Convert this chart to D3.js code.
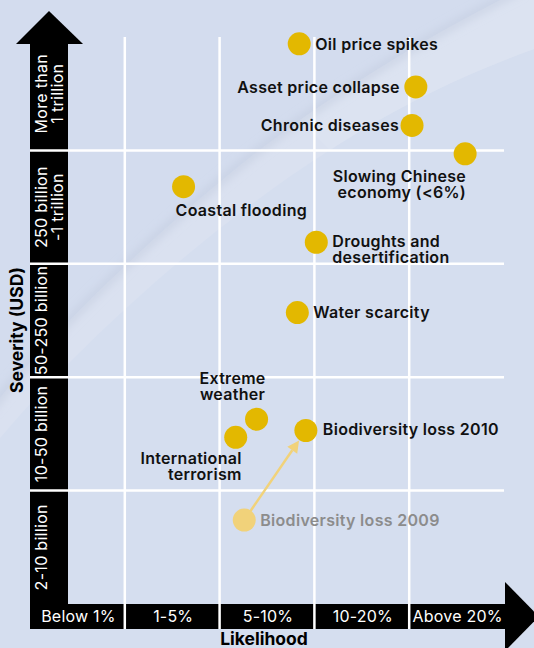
<!DOCTYPE html>
<html>
<head>
<meta charset="utf-8">
<script src="https://cdn.jsdelivr.net/npm/d3@7"></script>
<style>
  body { margin: 0; background: #d5deef; }
  svg { display: block; }
</style>
</head>
<body>
<div id="risk-chart"></div>
<script>
// risks, likelihood band position (0-5), severity band position (0-5)
const risks = [
    "Oil price spikes", "Asset price collapse", "Chronic diseases",
    "Slowing Chinese economy (<6%)", "Coastal flooding", "Droughts and desertification",
    "Water scarcity", "Extreme weather", "International terrorism",
    "Biodiversity loss 2010", "Biodiversity loss 2009"
];
const likelihood = [2.84, 4.07, 4.03, 4.59, 1.62, 3.02, 2.82, 2.39, 2.17, 2.91, 2.26];
const severity   = [4.94, 4.56, 4.22, 3.97, 3.68, 3.19, 2.57, 1.63, 1.47, 1.53, 0.74];

const likelihoodBands = ["Below 1%", "1-5%", "5-10%", "10-20%", "Above 20%"];
const severityBands = [
    ["2-10 billion"], ["10-50 billion"], ["50-250 billion"],
    ["250 billion", "-1 trillion"], ["More than", "1 trillion"]
];

// where each label sits relative to its dot
const labelLayout = {
    "Oil price spikes":              { lines: ["Oil price spikes"], dx: 16, dy: 6, anchor: "start" },
    "Asset price collapse":          { lines: ["Asset price collapse"], dx: -16, dy: 6, anchor: "end" },
    "Chronic diseases":              { lines: ["Chronic diseases"], dx: -13, dy: 6, anchor: "end" },
    "Slowing Chinese economy (<6%)": { lines: ["Slowing Chinese", "economy (<6%)"], dx: 1, dy: 28, anchor: "end" },
    "Coastal flooding":              { lines: ["Coastal flooding"], dx: -8, dy: 29, anchor: "start" },
    "Droughts and desertification":  { lines: ["Droughts and", "desertification"], dx: 16, dy: 5, anchor: "start" },
    "Water scarcity":                { lines: ["Water scarcity"], dx: 16, dy: 5, anchor: "start" },
    "Extreme weather":               { lines: ["Extreme", "weather"], dx: -24, dy: -35, anchor: "middle" },
    "International terrorism":       { lines: ["International", "terrorism"], dx: 6, dy: 27, anchor: "end" },
    "Biodiversity loss 2010":        { lines: ["Biodiversity loss 2010"], dx: 17, dy: 5, anchor: "start" },
    "Biodiversity loss 2009":        { lines: ["Biodiversity loss 2009"], dx: 16, dy: 6, anchor: "start" }
};

const data = risks.map((name, i) => ({ name, x: likelihood[i], y: severity[i] }));

const width = 534;
const height = 648;
const font = "Inter, 'Liberation Sans', Arial, sans-serif";
const gold = "#e3b800";
const paleGold = "#f1d27a";

const svg = d3.select("#risk-chart")
    .append("svg")
    .attr("width", width)
    .attr("height", height);

// background with the soft curved sheet
const defs = svg.append("defs");
defs.append("filter").attr("id", "soft")
    .attr("x", "-20%").attr("y", "-20%").attr("width", "140%").attr("height", "140%")
    .append("feGaussianBlur").attr("stdDeviation", 5);

svg.append("rect")
    .attr("width", width).attr("height", height)
    .attr("fill", "#d5deef");

const curve = "M-10,410 C60,320 200,190 300,120 C380,65 450,25 520,-10";
svg.append("path")
    .attr("d", "M-10,410 C60,320 200,190 300,120 C380,65 450,25 520,-10 L560,-10 L560,40 C470,70 400,105 330,150 C220,220 90,330 -10,450 Z")
    .attr("fill", "#dae1f0");
svg.append("path")
    .attr("d", curve + " L560,-10 L560,-40 L-10,-40 Z")
    .attr("fill", "#d3dcee");
svg.append("path")
    .attr("d", "M300,120 C380,65 450,25 520,-10 L560,-10 L560,40 C470,70 400,105 330,150 Z")
    .attr("fill", "#dce3f1");
svg.append("path")
    .attr("d", curve)
    .attr("fill", "none")
    .attr("stroke", "#c3ccdf")
    .attr("stroke-width", 5)
    .attr("filter", "url(#soft)");

const xScale = d3.scaleLinear().domain([0, 5]).range([30, 504]);
const yScale = d3.scaleLinear().domain([0, 5]).range([604, 37]);

const barW = 38;   // vertical bar
const barH = 25;   // horizontal bar
const x0 = xScale(0);
const y0 = yScale(0);

// axis bars with arrows
svg.append("rect")
    .attr("x", x0).attr("y", 44)
    .attr("width", barW).attr("height", y0 + barH - 44)
    .attr("fill", "#000");
svg.append("path")
    .attr("d", `M${x0 - 14},44 L${x0 + barW / 2},11 L${x0 + barW + 15},44 Z`)
    .attr("fill", "#000");
svg.append("rect")
    .attr("x", x0).attr("y", y0)
    .attr("width", xScale(5) + 1 - x0).attr("height", barH)
    .attr("fill", "#000");
svg.append("path")
    .attr("d", `M${xScale(5) + 1},${y0 - 22} L${xScale(5) + 35},${y0 + barH / 2} L${xScale(5) + 1},${y0 + barH + 22} Z`)
    .attr("fill", "#000");

// grid
const grid = svg.append("g").attr("stroke", "#fff").attr("stroke-width", 2.5);
grid.selectAll(".v")
    .data(d3.range(1, 5))
    .join("line")
        .attr("x1", d => xScale(d)).attr("x2", d => xScale(d))
        .attr("y1", yScale(5)).attr("y2", y0 + barH);
grid.selectAll(".h")
    .data(d3.range(1, 5))
    .join("line")
        .attr("x1", x0).attr("x2", xScale(5))
        .attr("y1", d => yScale(d)).attr("y2", d => yScale(d));

// likelihood band labels
svg.append("g")
    .selectAll("text")
    .data(likelihoodBands)
    .join("text")
        .attr("x", (d, i) => xScale(i + 0.5) + 1)
        .attr("y", y0 + 18)
        .attr("text-anchor", "middle")
        .attr("fill", "#fff")
        .style("font-family", font)
        .style("font-size", "16px")
        .style("letter-spacing", "0.2px")
        .text(d => d);

// severity band labels
svg.append("g")
    .selectAll("text")
    .data(severityBands)
    .join("text")
        .attr("transform", (d, i) => `translate(${x0 + 17},${yScale(i + 0.5)}) rotate(-90)`)
        .attr("text-anchor", "middle")
        .attr("fill", "#fff")
        .style("font-family", font)
        .style("font-size", "16px")
        .style("letter-spacing", "0.3px")
        .selectAll("tspan")
        .data(d => d)
        .join("tspan")
            .attr("x", 0)
            .attr("y", (d, i) => i * 16)
            .text(d => d);

// axis titles
svg.append("text")
    .attr("transform", `translate(23,330) rotate(-90)`)
    .attr("text-anchor", "middle")
    .style("font-family", font)
    .style("font-size", "17.5px")
    .style("font-weight", 700)
    .text("Severity (USD)");

svg.append("text")
    .attr("x", 264)
    .attr("y", 645)
    .attr("text-anchor", "middle")
    .style("font-family", font)
    .style("font-size", "17.5px")
    .style("font-weight", 700)
    .text("Likelihood");

// change in biodiversity loss
const from = data.find(d => d.name === "Biodiversity loss 2009");
const to = data.find(d => d.name === "Biodiversity loss 2010");
const fx = xScale(from.x), fy = yScale(from.y);
const tx = xScale(to.x), ty = yScale(to.y);
const len = Math.hypot(tx - fx, ty - fy);
const ux = (tx - fx) / len, uy = (ty - fy) / len;
const tipX = tx - ux * 12, tipY = ty - uy * 12;
const baseX = tipX - ux * 12, baseY = tipY - uy * 12;
svg.append("line")
    .attr("x1", fx + ux * 10).attr("y1", fy + uy * 10)
    .attr("x2", baseX).attr("y2", baseY)
    .attr("stroke", paleGold)
    .attr("stroke-width", 2.5);
svg.append("path")
    .attr("d", `M${tipX},${tipY} L${baseX - uy * 6},${baseY + ux * 6} L${baseX + uy * 6},${baseY - ux * 6} Z`)
    .attr("fill", paleGold);

// dots
svg.append("g")
    .selectAll("circle")
    .data(data)
    .join("circle")
        .attr("cx", d => xScale(d.x))
        .attr("cy", d => yScale(d.y))
        .attr("r", 11.5)
        .attr("fill", d => d.name === "Biodiversity loss 2009" ? paleGold : gold);

// labels
svg.append("g")
    .selectAll("text")
    .data(data)
    .join("text")
        .attr("transform", d => {
            const l = labelLayout[d.name];
            return `translate(${xScale(d.x) + l.dx},${yScale(d.y) + l.dy})`;
        })
        .attr("text-anchor", d => labelLayout[d.name].anchor)
        .attr("fill", d => d.name === "Biodiversity loss 2009" ? "#8c8c8c" : "#111")
        .style("font-family", font)
        .style("font-size", "16px")
        .style("font-weight", 600)
        .style("letter-spacing", "0.3px")
        .selectAll("tspan")
        .data(d => labelLayout[d.name].lines)
        .join("tspan")
            .attr("x", 0)
            .attr("y", (d, i) => i * 16)
            .text(d => d);
</script>
</body>
</html>
